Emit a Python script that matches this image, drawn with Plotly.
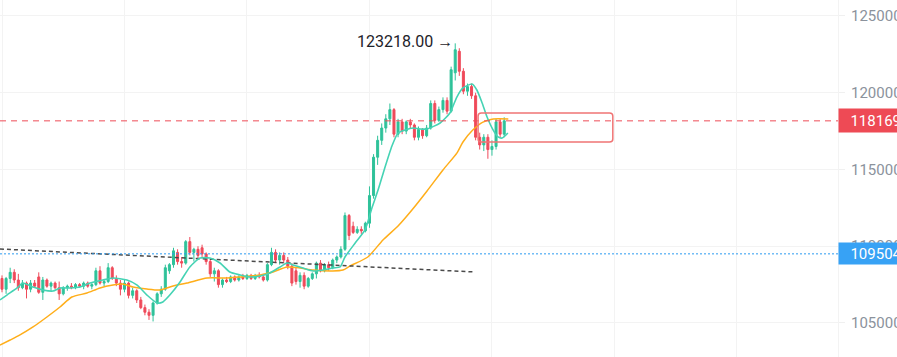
import plotly.graph_objects as go

# ---------------- data (4h candles) ----------------
CANDLE_IDX = list(range(124))

OPEN = [107900,107200,107900,108300,107800,107300,107600,107200,107600,108000,
        107000,107800,107400,107600,107300,106900,107300,107400,107300,107500,
        107400,107600,107400,107500,108400,107600,107700,108600,107900,107600,
        107200,107600,106800,107100,106500,106000,105700,105500,106300,106900,
        107200,108400,108800,109600,109000,108900,110300,109600,109800,109900,
        109500,109000,108200,108400,107500,107800,107700,108000,107800,108000,
        107900,108100,107900,108100,108000,107800,108800,109600,109100,109400,
        109100,108700,108400,107700,108100,107400,107900,108200,108900,108400,
        108800,108600,109100,109300,109800,112000,111300,110900,111100,111000,
        111500,113300,115800,116900,117700,118300,118900,117300,118100,117500,
        118100,117900,117100,117600,117200,117700,119300,118200,118900,119500,
        118800,121300,122700,121400,120100,120400,119800,117100,116600,117100,
        116300,116500,118100,117300]
HIGH = [108100,108000,108600,108500,108200,107800,107700,107800,107800,108300,
        108000,107900,107700,107700,107700,107400,107500,107600,107600,107600,
        107700,107700,107600,108600,108700,107800,108900,108700,108100,107800,
        107800,107700,107300,107200,106700,106200,105900,106400,107000,107400,
        108800,108900,109900,109800,109300,110400,110600,109900,110000,110100,
        109600,109100,108600,108500,107900,108000,108100,108100,108100,108200,
        108200,108200,108200,108300,108200,108900,109900,109800,109600,109600,
        109300,108900,108600,108300,108300,108000,108300,109000,109100,108900,
        109000,109200,109400,110000,112200,112100,111600,111300,111300,111600,
        113900,116000,117200,118000,118600,119300,119000,118300,118300,118200,
        118300,118000,117800,117700,117900,119500,119500,119100,119700,119700,
        121700,123218,122900,121600,120600,120600,120000,117400,117300,117300,
        116900,118300,118300,118400]
LOW = [107000,106900,107600,107600,107100,107200,106600,107000,107300,106900,
       106500,107300,107100,107200,106500,106800,107100,107200,107200,107300,
       107200,107300,107200,107400,107500,107400,107600,107800,107400,106800,
       107000,106600,106600,106300,105900,105500,105200,105100,106200,106700,
       107100,108200,108600,108800,108600,108800,109400,109000,109200,109300,
       108800,108000,107700,107300,107300,107600,107600,107700,107700,107800,
       107800,107800,107800,107900,107700,107700,108700,108900,108800,108900,
       108500,107400,107500,107300,107200,107300,107800,107900,108300,108300,
       108400,108500,108900,109200,109700,110400,110800,110800,110800,110900,
       111200,113100,115300,116600,117400,117900,117100,117100,117300,117300,
       117700,116900,116900,117000,117100,117600,118000,118100,118700,118600,
       118700,120800,121100,119900,119800,119600,116900,116300,116200,115700,
       115900,116300,117100,117100]
CLOSE = [107200,107900,108300,107800,107300,107600,107200,107600,107400,107000,
         107800,107400,107600,107300,106900,107300,107400,107300,107500,107400,
         107600,107400,107500,108400,107600,107700,108600,107900,107600,107200,
         107600,106800,107100,106500,106000,105700,105500,106300,106900,107200,
         108600,108800,109700,109000,108900,110300,109600,109800,109400,109500,
         109000,108200,108400,107500,107800,107700,108000,107800,108000,107900,
         108100,107900,108100,108000,107800,108800,109600,109100,109400,109100,
         108700,107600,107700,108100,107400,107900,108200,108900,108400,108800,
         108600,109100,109300,109800,112000,110700,110900,111100,111000,111500,
         113300,115800,116900,117700,118300,118900,117300,118100,117500,118100,
         117900,117100,117600,117200,117700,119300,118200,118900,119500,118800,
         121500,122800,121400,120100,120400,119800,117100,116600,117100,116300,
         116500,118100,117300,118169]

# moving averages (candle position, price)
MA_FAST_IDX = [-0.5,1.2,3.7,5.1,7.6,10,12.5,14.2,16.7,19.1,21.6,24.7,27.2,30.6,33.1,
               35.5,38,39.4,41.1,43.6,46,48.5,50.9,53.4,55.8,58.3,60.7,63.2,65.6,68.1,
               69.8,71.3,73.7,76.2,78.6,81.1,82.8,84,86.5,88.9,90.6,92.1,93.6,95.5,97,
               98.7,100.7,102.4,104.1,107.3,109.7,111.4,112.9,115.1,116.3,117.6,118.8,
               120.3,121.5,122.5,123.9]
MA_FAST = [106500,106820,107280,107600,107340,107150,107080,107280,107280,107340,
           107600,107800,107930,107800,107470,106820,106300,106370,106820,107670,
           108650,109230,109230,108910,108320,108130,108000,108060,108260,108650,
           108910,108780,108580,108390,108450,108580,108650,109300,110210,111060,
           112490,113660,114970,116530,117380,117570,117700,117640,117640,118030,
           118680,119720,120310,120570,120180,119330,118420,117570,117120,117050,
           117380]
MA_SLOW_IDX = [-0.5,2,4.4,7.6,11,14.2,17.1,20.8,24,27.2,29.6,32.1,35.5,38.7,41.9,
               45.3,50.2,55.1,58.3,63.2,66.4,69.8,73,76.2,81,83.5,85.2,89.6,93.3,97,
               100.4,104.1,108,111.4,112.9,115.3,117.8,120.3,124]
MA_SLOW = [103560,103890,104220,104740,105390,106040,106690,106950,107280,107470,
           107540,107340,107210,107150,107410,107600,107930,107930,108000,108130,
           108320,108650,108580,108450,108390,108450,108710,109300,110410,111320,
           112360,113600,114970,116070,116790,117570,118090,118290,118290]

TREND_IDX = [-0.5, 115.8]
TREND_PRICE = [109820, 108322]

BOX_IDX = [116.6, 149.6]
BOX_PRICE = [116791, 118681]

LAST_PRICE = 118169
LEVEL_PRICE = 109504
PEAK_IDX = 111
PEAK_PRICE = 123218

Y_TICKS = [105000, 110000, 115000, 120000, 125000]
Y_TICK_TEXT = ["105000.00", "110000.00", "115000.00", "120000.00", "125000.00"]

GREEN = "#2fc29a"
RED = "#ef4a5a"
MA_FAST_COLOR = "#45d3b4"
MA_SLOW_COLOR = "#ffae1a"

fig = go.Figure()

fig.add_trace(go.Scatter(x=MA_SLOW_IDX, y=MA_SLOW, mode="lines",
                         line=dict(color=MA_SLOW_COLOR, width=1.5, shape="spline", smoothing=0.6),
                         hoverinfo="skip"))
fig.add_trace(go.Scatter(x=TREND_IDX, y=TREND_PRICE, mode="lines",
                         line=dict(color="#4a4a4a", width=1.5, dash="4px,3px"),
                         hoverinfo="skip"))

fig.add_trace(go.Candlestick(
    x=CANDLE_IDX, open=OPEN, high=HIGH, low=LOW, close=CLOSE,
    increasing=dict(line=dict(color=GREEN, width=1), fillcolor=GREEN),
    decreasing=dict(line=dict(color=RED, width=1), fillcolor=RED),
    whiskerwidth=0,
))

fig.add_trace(go.Scatter(x=MA_FAST_IDX, y=MA_FAST, mode="lines",
                         line=dict(color=MA_FAST_COLOR, width=1.6, shape="spline", smoothing=0.6),
                         hoverinfo="skip"))

# horizontal price lines
fig.add_shape(type="line", xref="paper", x0=0, x1=1, yref="y", y0=LAST_PRICE, y1=LAST_PRICE,
              line=dict(color="#ee4d58", width=1, dash="6px,5px"))
fig.add_shape(type="line", xref="paper", x0=0, x1=1, yref="y", y0=LEVEL_PRICE, y1=LEVEL_PRICE,
              line=dict(color="#2b9bf0", width=1, dash="2px,2px"))

# rounded rectangle
x0, x1 = BOX_IDX
y0, y1 = BOX_PRICE
rx, ry = 0.8, 200
path = (f"M {x0+rx},{y0} L {x1-rx},{y0} Q {x1},{y0} {x1},{y0+ry} "
        f"L {x1},{y1-ry} Q {x1},{y1} {x1-rx},{y1} L {x0+rx},{y1} "
        f"Q {x0},{y1} {x0},{y1-ry} L {x0},{y0+ry} Q {x0},{y0} {x0+rx},{y0} Z")
fig.add_shape(type="path", path=path, xref="x", yref="y",
              line=dict(color="#f07474", width=1.5), fillcolor="rgba(0,0,0,0)")

# labels on the price axis
fig.add_annotation(xref="paper", x=1, xanchor="left", yref="y", y=LAST_PRICE, yanchor="middle",
                   text="\u00a0\u00a0" + f"{LAST_PRICE:.2f}", showarrow=False, bgcolor="#ee4a55",
                   font=dict(family="Roboto", size=15, color="white"),
                   borderpad=4, align="left", width=90, height=15)
fig.add_annotation(xref="paper", x=1, xanchor="left", yref="y", y=LEVEL_PRICE, yanchor="middle",
                   text="\u00a0\u00a0" + f"{LEVEL_PRICE:.2f}", showarrow=False, bgcolor="#37a2f5",
                   font=dict(family="Roboto", size=15, color="white"),
                   borderpad=4, align="left", width=90, height=13)

# peak label
fig.add_annotation(x=PEAK_IDX, y=PEAK_PRICE, xref="x", yref="y", xanchor="right", yanchor="middle",
                   xshift=0, yshift=2, text=f"{PEAK_PRICE:.2f} →", showarrow=False,
                   font=dict(family="Roboto", size=16, color="#1e2329"))

fig.update_layout(
    width=897, height=357,
    margin=dict(l=0, r=59, t=0, b=0, autoexpand=False),
    paper_bgcolor="white", plot_bgcolor="white",
    showlegend=False,
    xaxis=dict(range=[-0.49, 204.75], showgrid=True, gridcolor="#f3f3f3", gridwidth=1,
               tick0=0, dtick=30, showticklabels=False, zeroline=False, automargin=False,
               rangeslider=dict(visible=False), fixedrange=True),
    yaxis=dict(range=[102784, 126042], side="right", showgrid=True, gridcolor="#f3f3f3",
               tickvals=Y_TICKS, ticktext=Y_TICK_TEXT, ticks="outside", ticklen=6,
               tickcolor="#f0f0f0", showline=True, linecolor="#f3f3f3", automargin=False,
               ticklabelstandoff=3,
               tickfont=dict(family="Roboto", size=15, color="#8b929c"),
               zeroline=False, fixedrange=True),
)

fig.write_html("out.html", config={"displayModeBar": False},
               post_script="document.body.style.margin='0';document.body.style.overflow='hidden';")
